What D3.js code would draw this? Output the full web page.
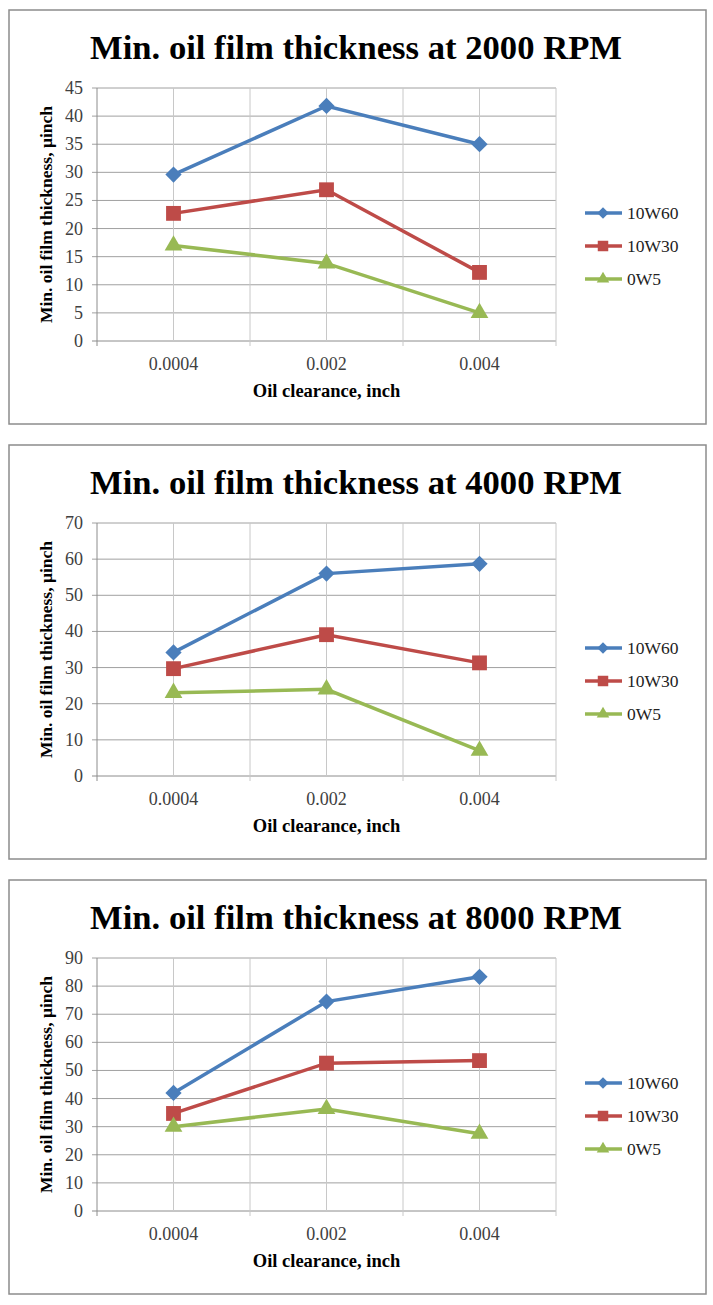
<!DOCTYPE html>
<html>
<head>
<meta charset="utf-8">
<title>Min. oil film thickness</title>
<script src="https://cdn.jsdelivr.net/npm/d3@7"></script>
<style>
    body { margin: 0; background: white; }
    svg text { font-family: "Liberation Serif", "Times New Roman", "DejaVu Serif", serif; }
</style>
</head>
<body>
<svg id="chart" width="713" height="1305"></svg>

<script>
    // data
    var categories = ["0.0004", "0.002", "0.004"]
    var seriesNames = ["10W60", "10W30", "0W5"]
    var rpmList = ["2000", "4000", "8000"]
    var yMaxList = [45, 70, 90]
    var yStepList = [5, 10, 10]

    var oil10W60 = [[29.6, 41.8, 35.0], [34.2, 56.0, 58.7], [42.0, 74.5, 83.3]]
    var oil10W30 = [[22.7, 26.9, 12.2], [29.7, 39.1, 31.3], [34.7, 52.6, 53.5]]
    var oil0W5   = [[17.0, 13.8, 5.0],  [23.0, 24.0, 7.0],  [30.0, 36.3, 27.5]]

    var colours = ["#4a7ebb", "#be4b48", "#98b954"]
    var shapes = ["diamond", "square", "triangle"]
    var panelTops = [10, 445, 880]
    var serif = "'Liberation Serif', 'Times New Roman', serif"

    var svg = d3.select("#chart")

    function markerPath(shape, s) {
        if (shape == "diamond") return d3.symbol().type(d3.symbolSquare).size(s * 0.6)()
        if (shape == "square") return d3.symbol().type(d3.symbolSquare).size(s)()
        return d3.symbol().type(d3.symbolTriangle).size(s * 0.62)()
    }

    function drawPanel(p) {
        var top = panelTops[p]
        var g = svg.append("g").attr("transform", "translate(0," + top + ")")

        g.append("rect")
            .attr("x", 9).attr("y", 0)
            .attr("width", 697).attr("height", 414)
            .attr("fill", "white")
            .attr("stroke", "#8c8c8c")
            .attr("stroke-width", 1.5)

        g.append("text")
            .attr("x", 356).attr("y", 49)
            .attr("text-anchor", "middle")
            .attr("font-family", serif)
            .attr("textLength", 532)
            .attr("lengthAdjust", "spacingAndGlyphs")
            .style("font-size", "34px")
            .style("font-weight", "bold")
            .text("Min. oil film thickness at " + rpmList[p] + " RPM")

        var left = 97, right = 556, plotTop = 78, plotBottom = 331
        var x = d3.scaleBand().domain(categories).range([left, right]).padding(0)
        var y = d3.scaleLinear().domain([0, yMaxList[p]]).range([plotBottom, plotTop])
        var ticks = d3.range(0, yMaxList[p] + 0.001, yStepList[p])
        var half = x.bandwidth() / 2

        // gridlines
        g.append("g").selectAll("line.h")
            .data(ticks)
            .enter().append("line")
            .attr("x1", left - 5).attr("x2", right)
            .attr("y1", d => y(d)).attr("y2", d => y(d))
            .attr("stroke", d => d == 0 ? "#8c8c8c" : "#a0a0a0")
            .attr("stroke-width", 1)

        var vx = []
        categories.forEach(c => { vx.push(x(c)); vx.push(x(c) + half) })
        vx.push(right)
        g.append("g").selectAll("line.v")
            .data(vx)
            .enter().append("line")
            .attr("x1", d => d).attr("x2", d => d)
            .attr("y1", plotTop).attr("y2", (d, i) => i % 2 == 0 ? plotBottom + 5 : plotBottom)
            .attr("stroke", (d, i) => i == 0 ? "#8c8c8c" : "#c8c8c8")
            .attr("stroke-width", 1)

        g.append("g").selectAll("text")
            .data(ticks)
            .enter().append("text")
            .attr("x", left - 14)
            .attr("y", d => y(d) + 6)
            .attr("text-anchor", "end")
            .attr("font-family", serif)
            .attr("fill", "#404040")
            .style("font-size", "18px")
            .text(d => d)

        g.append("g").selectAll("text")
            .data(categories)
            .enter().append("text")
            .attr("x", d => x(d) + half)
            .attr("y", plotBottom + 29)
            .attr("text-anchor", "middle")
            .attr("font-family", serif)
            .attr("fill", "#404040")
            .style("font-size", "18px")
            .text(d => d)

        g.append("text")
            .attr("x", (left + right) / 2)
            .attr("y", plotBottom + 56)
            .attr("text-anchor", "middle")
            .attr("font-family", serif)
            .style("font-size", "18.5px")
            .style("font-weight", "bold")
            .text("Oil clearance, inch")

        g.append("text")
            .attr("transform", "translate(52," + (plotTop + plotBottom) / 2 + ") rotate(-90)")
            .attr("text-anchor", "middle")
            .attr("font-family", serif)
            .style("font-size", "17.5px")
            .style("font-weight", "bold")
            .text("Min. oil film thickness, µinch")

        var allSeries = [oil10W60[p], oil10W30[p], oil0W5[p]]
        var line = d3.line()
            .x((d, i) => x(categories[i]) + half)
            .y(d => y(d))

        allSeries.forEach((vals, s) => {
            g.append("path")
                .datum(vals)
                .attr("d", line)
                .attr("fill", "none")
                .attr("stroke", colours[s])
                .attr("stroke-width", 3.5)

            g.append("g").selectAll("path")
                .data(vals)
                .enter().append("path")
                .attr("d", markerPath(shapes[s], 220))
                .attr("transform", (d, i) => "translate(" + (x(categories[i]) + half) + "," + y(d) + ")" + (shapes[s] == "diamond" ? " rotate(45)" : ""))
                .attr("fill", colours[s])
        })

        // legend
        var legend = g.append("g").selectAll("g")
            .data(seriesNames)
            .enter().append("g")
            .attr("transform", (d, i) => "translate(0," + (203 + i * 33) + ")")
        legend.append("line")
            .attr("x1", 585).attr("x2", 622)
            .attr("stroke", (d, i) => colours[i])
            .attr("stroke-width", 3.5)
        legend.append("path")
            .attr("d", (d, i) => markerPath(shapes[i], 110))
            .attr("transform", (d, i) => "translate(603,0)" + (shapes[i] == "diamond" ? " rotate(45)" : ""))
            .attr("fill", (d, i) => colours[i])
        legend.append("text")
            .attr("x", 627).attr("y", 6)
            .attr("font-family", serif)
            .attr("fill", "#222")
            .style("font-size", "17.5px")
            .text(d => d)
    }

    for (var p = 0; p < 3; p++) drawPanel(p)
</script>
</body>
</html>
